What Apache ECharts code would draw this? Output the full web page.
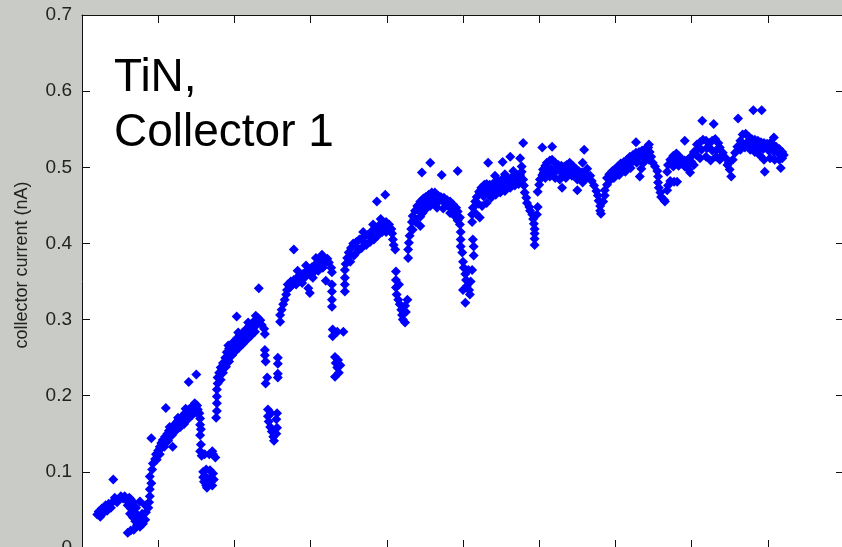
<!DOCTYPE html>
<html>
<head>
<meta charset="utf-8">
<script src="https://cdn.jsdelivr.net/npm/echarts@6/dist/echarts.min.js"></script>
<style>
	html, body { margin: 0; padding: 0; background: #c9ccc6; }
	#chart { width: 842px; height: 547px; }
</style>
</head>
<body>
<div id="chart"></div>
<script>
// Points, [time, collector current in nA]
const startCluster = [
	[0.20,0.044],[0.22,0.048],[0.24,0.041],[0.26,0.052],[0.29,0.047],[0.31,0.056],[0.33,0.049],[0.35,0.058],[0.38,0.053],[0.41,0.061],
	[0.43,0.066],[0.46,0.060],[0.49,0.064],[0.51,0.068],[0.54,0.065],[0.56,0.068],[0.59,0.062],[0.62,0.066],[0.64,0.064],[0.67,0.060],
	[0.60,0.056],[0.64,0.052],[0.68,0.048],[0.71,0.053],[0.63,0.045],[0.67,0.040],[0.70,0.035],[0.73,0.043],[0.76,0.037],[0.72,0.030],
	[0.68,0.024],[0.60,0.020],[0.64,0.023],[0.76,0.028],[0.80,0.032],[0.83,0.037],[0.79,0.045],[0.84,0.047],[0.87,0.053],[0.88,0.060],[0.83,0.056]
];
const firstRise = [
	[0.89,0.068],[0.89,0.077],[0.91,0.085],[0.89,0.094],[0.92,0.103],[0.93,0.111],[0.96,0.117],[0.97,0.123],[1.00,0.128],[1.02,0.133],
	[1.04,0.138],[1.06,0.142],[1.09,0.146],[1.12,0.150],[1.14,0.154],[1.17,0.157],[1.19,0.159],[1.22,0.163],[1.25,0.166],[1.27,0.169],
	[1.30,0.171],[1.33,0.174],[1.35,0.177],[1.38,0.179],[1.40,0.182],[1.43,0.184],[1.46,0.187],[1.48,0.190],[1.51,0.187],[1.52,0.182],
	[1.54,0.177],[1.55,0.170],[1.55,0.162],[1.56,0.156],
	[0.98,0.116],[1.02,0.123],[1.08,0.133],[1.13,0.141],[1.18,0.148],[1.23,0.154],[1.29,0.159],[1.34,0.163],[1.39,0.169],[1.44,0.174],[1.50,0.178],
	[1.15,0.159],[1.26,0.171],[1.36,0.183],
	[1.00,0.122],[1.05,0.132],[1.10,0.140],[1.15,0.148],[1.20,0.154],[1.26,0.160],[1.31,0.165],[1.36,0.170],[1.41,0.176],[1.46,0.180]
];
const firstDrop = [
	[1.55,0.148],[1.56,0.136],[1.55,0.127],[1.57,0.121],[1.61,0.123],[1.67,0.123],[1.72,0.123],[1.75,0.119],[1.71,0.127],[1.61,0.095],
	[1.64,0.090],[1.68,0.085],[1.64,0.079],[1.60,0.087],[1.69,0.093],[1.59,0.100],[1.63,0.103],[1.68,0.102],[1.72,0.098],[1.73,0.090],
	[1.71,0.082],[1.63,0.082],[1.59,0.093]
];
const secondRise = [
	[1.76,0.171],[1.77,0.180],[1.77,0.190],[1.77,0.199],[1.77,0.208],[1.78,0.216],[1.78,0.224],[1.80,0.230],[1.82,0.237],[1.85,0.243],
	[1.88,0.250],[1.90,0.257],[1.93,0.262],[1.96,0.267],[1.99,0.271],[2.03,0.275],[2.07,0.279],[2.11,0.283],[2.15,0.287],[2.19,0.291],
	[2.23,0.295],[2.27,0.299],[2.31,0.302],[2.34,0.299],[2.36,0.293],[2.39,0.288],[2.40,0.281],
	[1.82,0.221],[1.85,0.230],[1.89,0.238],[1.93,0.245],[1.97,0.253],[2.01,0.258],[2.06,0.263],[2.11,0.268],[2.17,0.274],[2.22,0.279],[2.27,0.284],
	[1.92,0.266],[2.05,0.283],[2.18,0.296],[2.28,0.305],
	[1.84,0.235],[1.87,0.242],[1.91,0.250],[1.95,0.258],[1.99,0.263],[2.04,0.268],[2.08,0.273],[2.13,0.277],[2.18,0.282],[2.22,0.287],
	[2.26,0.291],[2.30,0.294]
];
const secondDrop = [
	[2.40,0.260],[2.40,0.253],[2.41,0.245],[2.43,0.224],[2.41,0.216],[2.57,0.250],[2.57,0.242],[2.57,0.229],[2.57,0.224],[2.44,0.182],
	[2.44,0.173],[2.45,0.166],[2.47,0.159],[2.49,0.153],[2.51,0.146],[2.52,0.141],[2.55,0.150],[2.56,0.158],[2.55,0.169],[2.56,0.177],[2.48,0.177]
];
const thirdRise = [
	[2.60,0.297],[2.60,0.306],[2.62,0.313],[2.64,0.320],[2.66,0.326],[2.68,0.333],[2.69,0.339],[2.70,0.346],[2.74,0.350],[2.78,0.352],
	[2.82,0.355],[2.86,0.358],[2.90,0.360],[2.94,0.363],[2.98,0.365],[3.02,0.369],[3.06,0.372],[3.10,0.376],[3.14,0.379],[3.18,0.381],
	[3.22,0.380],[3.24,0.375],[3.27,0.368],[3.28,0.362],
	[2.73,0.342],[2.81,0.346],[2.89,0.348],[2.97,0.341],[2.99,0.335],[3.03,0.355],[3.10,0.364],[3.16,0.368],
	[2.83,0.364],[2.94,0.371],[3.07,0.381],[3.15,0.385],
	[2.76,0.346],[2.85,0.352],[2.93,0.356],[3.00,0.358],[3.06,0.364],[3.13,0.371],[3.19,0.374]
];
const thirdDrop = [
	[3.28,0.346],[3.28,0.337],[3.28,0.326],[3.28,0.317],[3.29,0.287],[3.35,0.284],[3.43,0.284],[3.29,0.278],[3.32,0.251],[3.33,0.243],
	[3.35,0.237],[3.37,0.230],[3.32,0.225],[3.39,0.240],[3.36,0.247]
];
const fourthRise = [
	[3.45,0.337],[3.45,0.346],[3.45,0.355],[3.45,0.365],[3.46,0.373],[3.48,0.381],[3.50,0.388],[3.53,0.394],[3.56,0.400],[3.60,0.402],
	[3.64,0.405],[3.67,0.406],[3.71,0.409],[3.75,0.411],[3.79,0.415],[3.83,0.418],[3.87,0.421],[3.91,0.425],[3.95,0.427],[3.99,0.428],
	[4.03,0.425],[4.06,0.419],[4.07,0.413],[4.08,0.405],[4.09,0.398],[4.11,0.392],
	[3.52,0.376],[3.57,0.384],[3.62,0.390],[3.67,0.394],[3.73,0.398],[3.78,0.402],[3.83,0.405],[3.88,0.410],[3.94,0.415],[3.99,0.415],
	[3.69,0.415],[3.82,0.425],[3.92,0.432],
	[3.60,0.396],[3.70,0.402],[3.80,0.409],[3.90,0.416],[3.97,0.421]
];
const fourthDrop = [
	[4.12,0.363],[4.12,0.352],[4.12,0.342],[4.13,0.333],[4.15,0.326],[4.17,0.320],[4.19,0.313],[4.20,0.306],[4.21,0.300],[4.24,0.296],
	[4.25,0.310],[4.27,0.326],[4.24,0.318],[4.16,0.346]
];
const fifthRise = [
	[4.28,0.381],[4.28,0.392],[4.29,0.401],[4.30,0.410],[4.32,0.419],[4.33,0.428],[4.34,0.436],[4.37,0.443],[4.40,0.449],[4.44,0.455],
	[4.48,0.459],[4.51,0.461],[4.55,0.464],[4.59,0.467],[4.63,0.467],[4.67,0.463],[4.71,0.461],[4.75,0.460],[4.79,0.457],[4.83,0.455],
	[4.87,0.451],[4.91,0.447],[4.93,0.442],[4.96,0.434],[4.96,0.425],[4.97,0.415],
	[4.34,0.418],[4.38,0.428],[4.44,0.435],[4.44,0.423],[4.50,0.444],[4.57,0.449],[4.66,0.447],[4.74,0.446],[4.83,0.440],[4.90,0.435],
	[4.36,0.432],[4.41,0.444],[4.46,0.450],[4.53,0.455],[4.60,0.458],[4.68,0.455],[4.76,0.453],[4.82,0.448],[4.88,0.443],[4.93,0.430],
	[4.47,0.440],[4.62,0.452]
];
const fifthDrop = [
	[4.97,0.405],[4.97,0.396],[4.99,0.388],[5.13,0.405],[5.14,0.396],[5.14,0.384],[5.00,0.376],[5.01,0.368],[5.03,0.360],[5.04,0.352],
	[5.05,0.344],[5.08,0.339],[5.09,0.333],[5.07,0.365],[5.12,0.365],[5.10,0.350],[5.03,0.322],[5.00,0.339]
];
const sixthRise = [
	[5.12,0.428],[5.12,0.438],[5.13,0.447],[5.16,0.455],[5.18,0.461],[5.21,0.468],[5.24,0.473],[5.28,0.477],[5.31,0.478],[5.35,0.477],
	[5.39,0.478],[5.43,0.481],[5.47,0.482],[5.51,0.484],[5.55,0.484],[5.59,0.485],[5.63,0.486],[5.67,0.488],[5.71,0.489],[5.75,0.490],
	[5.77,0.494],[5.77,0.501],
	[5.17,0.439],[5.22,0.434],[5.25,0.449],[5.31,0.453],[5.37,0.460],[5.43,0.464],[5.49,0.467],[5.55,0.469],[5.62,0.473],[5.68,0.476],[5.73,0.478],
	[5.42,0.489],[5.55,0.491],[5.66,0.495],
	[5.20,0.452],[5.27,0.462],[5.33,0.468],[5.39,0.471],[5.45,0.473],[5.51,0.476],[5.57,0.477],[5.63,0.480],[5.69,0.482],[5.74,0.484],
	[5.28,0.470],[5.36,0.467],[5.48,0.474],[5.60,0.479]
];
const sixthDrop = [
	[5.79,0.484],[5.80,0.476],[5.81,0.467],[5.83,0.460],[5.84,0.453],[5.87,0.448],[5.88,0.443],[5.91,0.438],[5.92,0.432],[5.93,0.426],
	[5.94,0.419],[5.94,0.413],[5.94,0.406],[5.94,0.398],[5.98,0.448],[5.97,0.438]
];
const seventhRise = [
	[5.98,0.468],[6.00,0.477],[6.01,0.484],[6.04,0.490],[6.05,0.497],[6.08,0.502],[6.10,0.506],[6.14,0.509],[6.17,0.510],[6.21,0.506],
	[6.25,0.503],[6.29,0.502],[6.33,0.501],[6.36,0.503],[6.40,0.506],[6.44,0.502],[6.48,0.498],[6.52,0.495],[6.56,0.493],[6.60,0.490],[6.64,0.488],
	[6.08,0.486],[6.14,0.488],[6.21,0.486],[6.27,0.484],[6.30,0.473],[6.35,0.486],[6.43,0.489],[6.50,0.484],[6.50,0.470],[6.57,0.480],
	[6.10,0.495],[6.16,0.498],[6.22,0.496],[6.28,0.494],[6.34,0.494],[6.40,0.497],[6.46,0.493],[6.53,0.488],[6.60,0.484],[6.06,0.493],
	[6.19,0.492],[6.31,0.489],[6.38,0.490]
];
const seventhDip = [
	[6.57,0.506],[6.63,0.498],[6.67,0.489],[6.69,0.482],[6.72,0.476],[6.75,0.469],[6.77,0.463],[6.78,0.456],[6.80,0.449],[6.80,0.443],
	[6.81,0.439],[6.84,0.455],[6.86,0.463],[6.86,0.470]
];
const eighthRise = [
	[6.89,0.477],[6.89,0.486],[6.92,0.491],[6.96,0.495],[7.00,0.498],[7.03,0.501],[7.07,0.505],[7.11,0.507],[7.15,0.510],[7.19,0.514],
	[7.23,0.516],[7.27,0.519],[7.31,0.520],[7.35,0.522],[7.39,0.524],[7.43,0.526],[7.45,0.520],[7.47,0.514],[7.49,0.506],[7.52,0.501],[7.55,0.495],
	[6.94,0.484],[6.98,0.486],[7.05,0.490],[7.13,0.494],[7.20,0.499],[7.28,0.506],[7.34,0.498],[7.32,0.488],[7.40,0.510],
	[6.96,0.489],[7.02,0.493],[7.09,0.499],[7.16,0.503],[7.23,0.508],[7.30,0.512],[7.37,0.514],[7.42,0.517],[7.36,0.505],[7.44,0.510]
];
const eighthDip = [
	[7.56,0.488],[7.56,0.480],[7.57,0.473],[7.59,0.467],[7.60,0.461],[7.64,0.457],[7.65,0.455],[7.68,0.470],[7.69,0.476],[7.72,0.482],
	[7.77,0.481],[7.81,0.481]
];
const lastRise = [
	[7.68,0.494],[7.69,0.503],[7.72,0.510],[7.76,0.515],[7.80,0.518],[7.83,0.515],[7.87,0.511],[7.91,0.509],[7.95,0.510],[7.99,0.514],
	[8.03,0.520],[8.07,0.530],[8.11,0.533],[8.15,0.536],[8.19,0.535],[8.23,0.532],[8.27,0.535],[8.31,0.537],[8.35,0.532],[8.37,0.526],
	[8.41,0.519],[8.45,0.512],[8.49,0.506],[8.50,0.497],[8.52,0.488],[8.54,0.510],[8.57,0.519],[8.60,0.527],[8.64,0.535],[8.67,0.543],
	[8.71,0.544],[8.75,0.540],[8.79,0.537],[8.83,0.536],[8.87,0.535],[8.91,0.533],[8.95,0.532],[8.99,0.531],[9.03,0.532],[9.07,0.530],
	[9.11,0.527],[9.15,0.524],[9.19,0.520],[9.21,0.516],[9.19,0.512],[9.15,0.510],[9.09,0.510],[9.03,0.512],[8.95,0.510],[8.90,0.515],
	[8.83,0.520],[8.77,0.523],[8.70,0.526],[8.64,0.523],
	[7.76,0.501],[7.83,0.502],[7.91,0.501],[7.98,0.493],[8.03,0.503],[8.11,0.512],[8.19,0.514],[8.25,0.509],[8.32,0.514],[8.37,0.510],
	[7.74,0.507],[7.80,0.509],[7.87,0.505],[7.94,0.502],[8.00,0.507],[8.06,0.516],[8.13,0.523],[8.20,0.525],[8.27,0.522],[8.33,0.523],
	[8.40,0.515],[8.47,0.503],[7.96,0.497],[8.08,0.524],[8.22,0.527],
	[8.66,0.531],[8.73,0.533],[8.80,0.530],[8.87,0.527],[8.94,0.524],[9.01,0.522],[9.08,0.520],[9.14,0.518],[8.76,0.530],[8.90,0.525],[9.04,0.525]
];
const outliers = [
	[0.41,0.090],[0.76,0.061],[1.10,0.184],[0.91,0.144],[1.19,0.133],[1.40,0.218],[1.50,0.228],[2.03,0.304],[2.32,0.341],[2.78,0.392],
	[3.20,0.351],[3.87,0.455],[3.98,0.464],[4.46,0.493],[4.57,0.506],[4.72,0.490],[4.93,0.495],[5.33,0.506],[5.52,0.507],[5.62,0.514],
	[5.75,0.512],[5.79,0.532],[6.04,0.526],[6.17,0.527],[6.59,0.523],[7.27,0.533],[7.44,0.530],[7.91,0.535],[8.14,0.561],[8.29,0.557],
	[8.61,0.564],[8.81,0.575],[8.92,0.575],[9.08,0.539],[9.17,0.499],[8.96,0.494]
];

const yLabel = "collector current (nA)";
const annotation = "TiN,\nCollector 1";

const axisColour = "#111";
const labelColour = "#222";
const fontFamily = '"Liberation Sans", Arial, Helvetica, sans-serif';

function boxAxis(position, showLabels) {
	return {
		position: position,
		axisLine: { show: true, onZero: false, lineStyle: { color: axisColour, width: 1 } },
		axisTick: { show: true, inside: true, length: 8, lineStyle: { color: axisColour } },
		axisLabel: {
			show: showLabels,
			color: labelColour,
			fontSize: 19,
			fontFamily: fontFamily,
			margin: 10,
		},
		splitLine: { show: false },
	};
}

const allPoints = [].concat(
	startCluster, firstRise, firstDrop, secondRise, secondDrop, thirdRise, thirdDrop,
	fourthRise, fourthDrop, fifthRise, fifthDrop, sixthRise, sixthDrop,
	seventhRise, seventhDip, eighthRise, eighthDip, lastRise, outliers
);

const chart = echarts.init(document.getElementById("chart"));
chart.setOption({
	animation: false,
	backgroundColor: "#c9ccc6",
	grid: {
		show: true,
		left: 82,
		top: 15,
		width: 762,
		height: 533,
		containLabel: false,
		outerBoundsMode: "none",
		backgroundColor: "#ffffff",
		borderWidth: 0,
	},
	xAxis: [
		Object.assign({ type: "value", min: 0, max: 10, interval: 1 }, boxAxis("bottom", false)),
		Object.assign({ type: "value", min: 0, max: 10, interval: 1 }, boxAxis("top", false)),
	],
	yAxis: [
		Object.assign({ type: "value", min: 0, max: 0.7, interval: 0.1 }, boxAxis("left", true)),
		Object.assign({ type: "value", min: 0, max: 0.7, interval: 0.1 }, boxAxis("right", false)),
	],
	graphic: [
		{
			type: "text",
			x: 22,
			y: 265,
			rotation: Math.PI / 2,
			style: {
				text: yLabel,
				fontSize: 18,
				fontFamily: fontFamily,
				fill: labelColour,
				align: "center",
				verticalAlign: "middle",
			},
		},
		{
			type: "text",
			x: 114,
			y: 106,
			z: 10,
			style: {
				text: annotation,
				fontSize: 46,
				fontFamily: fontFamily,
				lineHeight: 55,
				fill: "#000",
				align: "left",
				verticalAlign: "middle",
			},
		},
	],
	series: [
		{
			type: "scatter",
			xAxisIndex: 0,
			yAxisIndex: 0,
			symbol: "diamond",
			symbolSize: 10,
			itemStyle: { color: "#0000ff", opacity: 1 },
			data: allPoints,
		},
	],
});
</script>
</body>
</html>
